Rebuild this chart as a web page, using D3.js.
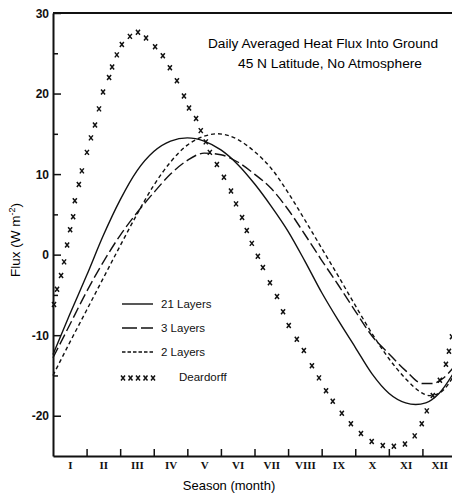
<!DOCTYPE html>
<html>
<head>
<meta charset="utf-8">
<script src="https://cdn.jsdelivr.net/npm/d3@7"></script>
<style>
	body { margin: 0; background: #fff; }
	svg { display: block; font-family: "Liberation Sans", Arial, sans-serif; }
	.axis path, .axis line { stroke: #111; }
	.axis text { fill: #111; }
</style>
</head>
<body>
<svg id="chart" width="452" height="496"></svg>
<script>
// month positions (0 = start of Jan) and flux values in W m-2
var layers21 = [[0,-12.4],[0.5,-7.4],[1,-2.6],[1.5,2.4],[2,6.8],[2.5,10.4],[3,12.8],[3.5,14.1],[4,14.5],[4.5,14.1],
	[5,13.0],[5.5,11.2],[6,8.8],[6.5,6.0],[7,2.9],[7.5,-0.8],[8,-4.7],[8.5,-8.2],[9,-11.5],[9.5,-14.8],
	[10,-17.2],[10.5,-18.4],[10.8,-18.6],[11.1,-18.4],[11.5,-17.2],[12,-14.2]];

var layers3 = [[0,-12.8],[0.5,-8.7],[1,-4.6],[1.5,-0.9],[2,2.4],[2.5,5.2],[3,7.7],[3.5,10.0],[4,11.7],[4.5,12.6],
	[5,12.4],[5.5,11.5],[6,10.0],[6.5,8.2],[7,5.6],[7.5,2.5],[8,-0.7],[8.5,-3.8],[9,-7.0],[9.5,-10.1],
	[10,-12.3],[10.5,-14.4],[11,-16.0],[11.3,-16.0],[11.6,-15.4],[12,-13.6]];

var layers2 = [[0,-15.0],[0.5,-10.9],[1,-6.9],[1.5,-2.9],[2,1.1],[2.5,5.0],[3,8.6],[3.5,11.5],[4,13.6],[4.5,14.7],
	[4.9,15.0],[5.5,14.3],[6,12.8],[6.5,10.7],[7,7.7],[7.5,4.3],[8,0.8],[8.5,-2.7],[9,-6.3],[9.5,-9.8],
	[10,-12.9],[10.5,-15.4],[11,-17.2],[11.2,-17.5],[11.5,-17.2],[12,-14.6]];

var deardorff = [[0.03,-6.2],[0.12,-4.3],[0.24,-2.6],[0.33,-0.9],[0.42,1.2],[0.51,3.1],[0.60,4.7],[0.65,6.7],
	[0.77,8.7],[0.86,10.4],[1.01,12.7],[1.13,14.5],[1.25,16.1],[1.37,18.1],[1.49,20.2],[1.67,22.0],[1.76,23.3],
	[1.90,24.8],[2.05,26.1],[2.29,27.1],[2.53,27.6],[2.77,26.9],[3.04,25.8],[3.27,24.7],[3.48,23.2],[3.69,21.6],
	[3.90,19.7],[4.05,18.2],[4.26,16.9],[4.40,15.4],[4.55,14.0],[4.67,12.7],[4.88,11.2],[5.09,9.6],[5.30,7.9],
	[5.45,6.3],[5.63,4.6],[5.77,3.0],[5.92,1.4],[6.10,-0.2],[6.25,-1.6],[6.46,-3.5],[6.67,-5.2],[6.85,-7.1],
	[7.02,-8.8],[7.26,-10.5],[7.47,-11.9],[7.71,-13.8],[7.92,-15.3],[8.13,-16.9],[8.33,-18.2],[8.60,-19.7],
	[8.87,-21.0],[9.17,-22.2],[9.49,-23.2],[9.82,-23.7],[10.15,-23.8],[10.48,-23.5],[10.77,-22.5],[10.98,-21.0],
	[11.13,-19.4],[11.31,-17.5],[11.52,-15.6],[11.70,-13.6],[11.79,-12.0],[11.88,-10.2]];

var yMajor = [30, 20, 10, 0, -10, -20];
var yMinor = [25, 15, 5, -5, -15];
var monthLabels = ["I","II","III","IV","V","VI","VII","VIII","IX","X","XI","XII"];

var margin = { top: 13, left: 53 },
		width = 403,
		height = 443;

var svg = d3.select("#chart");

var x = d3.scaleLinear().domain([0, 12]).range([margin.left, margin.left + width]);
var y = d3.scaleLinear().domain([-25, 30]).range([margin.top + height, margin.top]);

// frame: top border
svg.append("line")
	.attr("x1", x(0)).attr("x2", x(12))
	.attr("y1", y(30)).attr("y2", y(30))
	.attr("stroke", "#111").attr("stroke-width", 2);

// y axis
svg.append("g")
	.attr("class", "axis")
	.attr("transform", "translate(" + margin.left + ",0)")
	.call(d3.axisLeft(y).tickValues(yMajor).tickSize(-8).tickSizeOuter(0).tickPadding(4)
		.tickFormat(function (d) { return String(d); }))
	.call(function (g) {
		g.select(".domain").attr("stroke-width", 2);
		g.selectAll(".tick line").attr("stroke-width", 1.5);
		g.selectAll("text").attr("font-size", 12).attr("font-weight", "bold").attr("dy", "0.35em");
	});

svg.append("g")
	.attr("class", "axis")
	.attr("transform", "translate(" + margin.left + ",0)")
	.call(d3.axisLeft(y).tickValues(yMinor).tickSize(-5).tickFormat(""))
	.call(function (g) {
		g.select(".domain").remove();
		g.selectAll(".tick line").attr("stroke-width", 1.5);
	});

// x axis: month boundaries and roman numeral labels
svg.append("g")
	.attr("class", "axis")
	.attr("transform", "translate(0," + (margin.top + height) + ")")
	.call(d3.axisBottom(x).tickValues(d3.range(1, 13)).tickSize(-7).tickSizeOuter(0).tickFormat(""))
	.call(function (g) {
		g.select(".domain").attr("stroke-width", 2);
		g.selectAll(".tick line").attr("stroke-width", 1.5);
	});

svg.append("g")
	.attr("class", "axis")
	.attr("transform", "translate(0," + (margin.top + height) + ")")
	.call(d3.axisBottom(x).tickValues(d3.range(0.5, 12, 1)).tickSize(0).tickPadding(5)
		.tickFormat(function (d, i) { return monthLabels[i]; }))
	.call(function (g) {
		g.select(".domain").remove();
		g.selectAll("text")
			.attr("font-family", "'Liberation Serif', 'DejaVu Serif', serif")
			.attr("font-weight", "bold")
			.attr("font-size", 11);
	});

// curves
var line = d3.line()
	.x(function (d) { return x(d[0]); })
	.y(function (d) { return y(d[1]); })
	.curve(d3.curveMonotoneX);

var series = [
	{ data: layers21, dash: null },
	{ data: layers3, dash: "11,4" },
	{ data: layers2, dash: "4,3" }
];

series.forEach(function (s) {
	svg.append("path")
		.datum(s.data)
		.attr("d", line)
		.attr("fill", "none")
		.attr("stroke", "#111")
		.attr("stroke-width", 1.4)
		.attr("stroke-dasharray", s.dash);
});

var cross = "M-2,-2.5L2,2.5M2,-2.5L-2,2.5";

svg.append("g")
	.selectAll("path")
	.data(deardorff)
	.enter().append("path")
		.attr("d", cross)
		.attr("transform", function (d) { return "translate(" + x(d[0]) + "," + y(d[1]) + ")"; })
		.attr("fill", "none")
		.attr("stroke", "#111")
		.attr("stroke-width", 1.5);

// legend
var legend = svg.append("g").attr("font-size", 11.5).attr("fill", "#111");
var legendItems = [
	{ label: "21 Layers", dash: null, ty: 308, tx: 161 },
	{ label: "3 Layers", dash: "15,4", ty: 332, tx: 161 },
	{ label: "2 Layers", dash: "3.5,2", ty: 356, tx: 161 }
];

legendItems.forEach(function (d) {
	legend.append("line")
		.attr("x1", 122).attr("x2", 153)
		.attr("y1", d.ty - 4).attr("y2", d.ty - 4)
		.attr("stroke", "#111")
		.attr("stroke-width", 1.4)
		.attr("stroke-dasharray", d.dash);
	legend.append("text")
		.attr("x", d.tx).attr("y", d.ty)
		.text(d.label);
});

d3.range(5).forEach(function (i) {
	legend.append("path")
		.attr("d", cross)
		.attr("transform", "translate(" + (123 + i * 7.5) + ",378)")
		.attr("fill", "none")
		.attr("stroke", "#111")
		.attr("stroke-width", 1.5);
});
legend.append("text").attr("x", 179).attr("y", 381).text("Deardorff");

// title
svg.append("text")
	.attr("x", 208).attr("y", 48)
	.attr("font-size", 12.5)
	.attr("textLength", 230).attr("lengthAdjust", "spacingAndGlyphs")
	.text("Daily Averaged Heat Flux Into Ground");

svg.append("text")
	.attr("x", 238).attr("y", 68)
	.attr("font-size", 12.5)
	.attr("textLength", 184).attr("lengthAdjust", "spacingAndGlyphs")
	.text("45 N Latitude, No Atmosphere");

// axis titles
var yTitle = svg.append("text")
	.attr("transform", "translate(20,240) rotate(-90)")
	.attr("text-anchor", "middle")
	.attr("font-size", 13.5);
yTitle.append("tspan").text("Flux (W m");
yTitle.append("tspan").attr("dy", -5).attr("font-size", 9).text("-2");
yTitle.append("tspan").attr("dy", 5).text(")");

svg.append("text")
	.attr("x", 229).attr("y", 490)
	.attr("text-anchor", "middle")
	.attr("font-size", 13)
	.text("Season (month)");
</script>
</body>
</html>
